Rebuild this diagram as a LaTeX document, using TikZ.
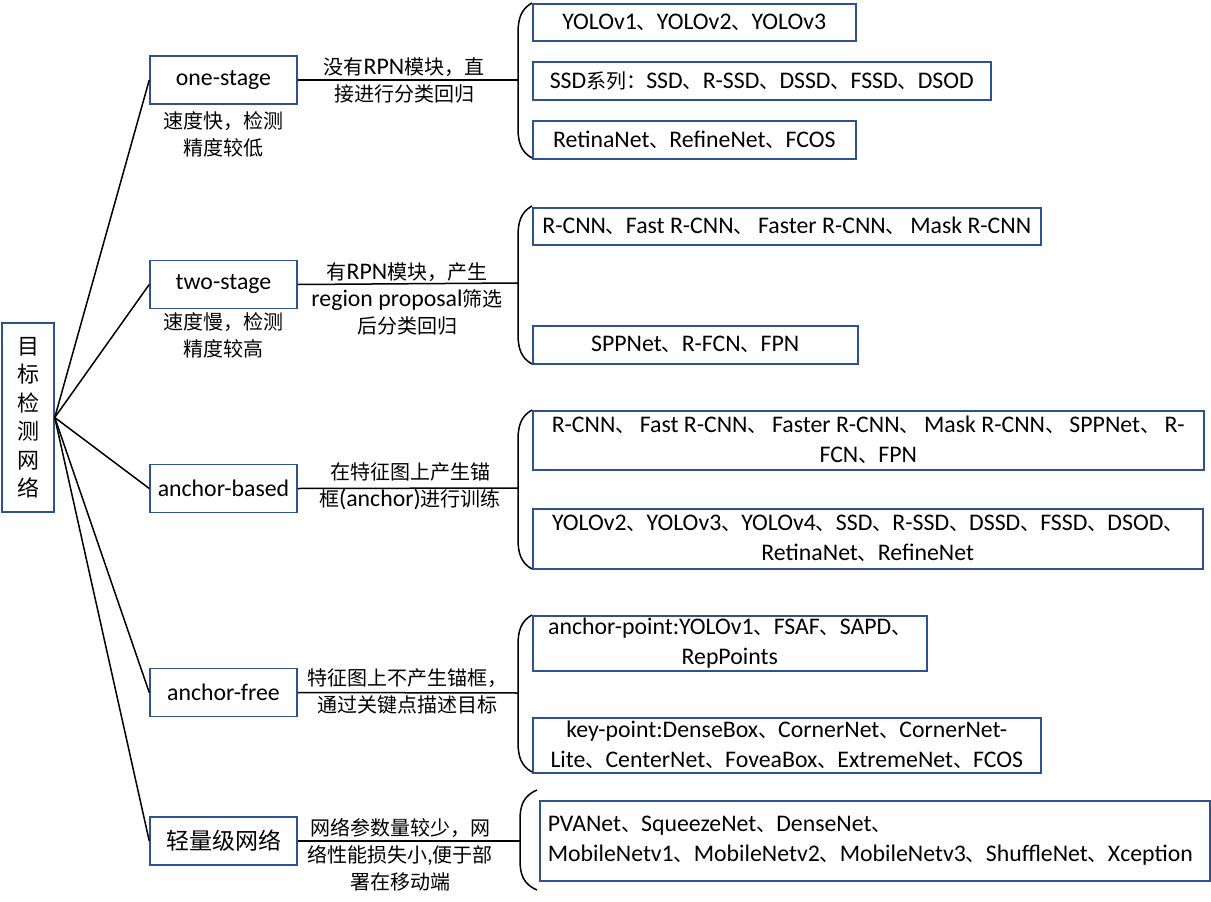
\documentclass[tikz,border=0pt]{standalone}
\usepackage{fontspec}
\usepackage{tikz}
\usetikzlibrary{calc}
\setmainfont{Carlito}[Scale=1.19]
\newfontfamily\cjk{Noto Sans CJK SC}
% switch to the CJK font for Chinese characters
\XeTeXinterchartokenstate=1
\newXeTeXintercharclass\CJKcls
\count255="3000 \loop\ifnum\count255<"3040 \XeTeXcharclass\count255=\CJKcls \advance\count255 by 1 \repeat
\count255="4E00 \loop\ifnum\count255<"A000 \XeTeXcharclass\count255=\CJKcls \advance\count255 by 1 \repeat
\count255="FF00 \loop\ifnum\count255<"FFF0 \XeTeXcharclass\count255=\CJKcls \advance\count255 by 1 \repeat
\XeTeXinterchartoks 0 \CJKcls = {\cjk}
\XeTeXinterchartoks 4095 \CJKcls = {\cjk}
\XeTeXinterchartoks \CJKcls 0 = {\rmfamily}
\XeTeXinterchartoks 4095 0 = {\rmfamily}
\definecolor{boxblue}{HTML}{2F528F}
\tikzset{box/.style = {rectangle, draw=boxblue, line width=1.5pt, inner sep=0pt,
                       align=center, font=\fontsize{20}{30}\selectfont}}

\begin{document}
\begin{tikzpicture}[x=1pt, y=-1pt, line width=1.5pt,
  main/.style = {box, minimum width=147pt, minimum height=48pt},
  leaf/.style = {box, anchor=north west},
  note/.style = {align=center, inner sep=0pt, font=\fontsize{20}{27}\selectfont}]
\useasboundingbox (0,0) rectangle (1211,902);
% root
\node[box, minimum width=52pt, minimum height=189pt, font=\fontsize{22}{28.5}\selectfont] (root) at (28,417.5) {目\\标\\检\\测\\网\\络};
% first level
\node[main] (one) at (223.5,80) {one-stage};
\node[main] (two) at (223.5,284.5) {two-stage};
\node[main] (ab) at (223.5,488.5) {anchor-based};
\node[main] (af) at (223.5,692.5) {anchor-free};
\node[main, font=\fontsize{23}{30}\selectfont] (lw) at (223.5,841) {轻量级网络};
\node[note] (onenote) at (223,134) {速度快，检测\\精度较低};
\node[note] (twonote) at (223,335) {速度慢，检测\\精度较高};
\foreach \n in {one,two,ab,af,lw} \draw (root.east) -- (\n.west);
% labels on the links
\node[note] (l1) at (404,80) {没有RPN模块，直\\接进行分类回归};
\node[note] (l2) at (407,299) {有RPN模块，产生\\region proposal筛选\\后分类回归};
\node[note] (l3) at (410,486.5) {在特征图上产生锚\\框(anchor)进行训练};
\node[note] (l4) at (407,691) {特征图上不产生锚框，\\通过关键点描述目标};
\node[note] (l5) at (400,855) {网络参数量较少，网\\络性能损失小,便于部\\署在移动端};
\coordinate (b1) at (518,80);
\coordinate (b2) at (518,283);
\coordinate (b3) at (518,488);
\coordinate (b4) at (518,693);
\coordinate (b5) at (520,841);
\draw (one.east) -- (b1);
\draw (two.east) -- (b2);
\draw (ab.east) -- (b3);
\draw (af.east) -- (b4);
\draw (lw.east) -- (b5);
% brackets
\foreach \xa/\xb/\ya/\yb in {518/532/3/158, 518/532/206/364, 518/532/410/569, 518/532/615/772, 520/537/790/890}
  \draw (\xb,\ya) .. controls (\xa+3,\ya+6) and (\xa,\ya+16) .. (\xa,\ya+30) -- (\xa,\yb-30)
        .. controls (\xa,\yb-16) and (\xa+3,\yb-6) .. (\xb,\yb);
% leaves
\node[leaf, minimum width=323pt, minimum height=37pt] (c11) at (532,3) {YOLOv1、YOLOv2、YOLOv3};
\node[leaf, minimum width=458pt, minimum height=38pt] (c12) at (532,61) {SSD系列：SSD、R-SSD、DSSD、FSSD、DSOD};
\node[leaf, minimum width=323pt, minimum height=38pt] (c13) at (532,120) {RetinaNet、RefineNet、FCOS};
\node[leaf, minimum width=508pt, minimum height=37pt] (c21) at (532,207) {R-CNN、Fast R-CNN、 Faster R-CNN、 Mask R-CNN};
\node[leaf, minimum width=325pt, minimum height=38pt] (c22) at (532,325) {SPPNet、R-FCN、FPN};
\node[leaf, minimum width=671pt, minimum height=59pt] (c31) at (532,410) {R-CNN、 Fast R-CNN、 Faster R-CNN、 Mask R-CNN、 SPPNet、 R-\\FCN、FPN};
\node[leaf, minimum width=670pt, minimum height=60pt] (c32) at (532,508) {YOLOv2、YOLOv3、YOLOv4、SSD、R-SSD、DSSD、FSSD、DSOD、\\RetinaNet、RefineNet};
\node[leaf, minimum width=394pt, minimum height=55pt] (c41) at (532,615) {anchor-point:YOLOv1、FSAF、SAPD、\\RepPoints};
\node[leaf, minimum width=508pt, minimum height=55pt] (c42) at (532,717) {key-point:DenseBox、CornerNet、CornerNet-\\Lite、CenterNet、FoveaBox、ExtremeNet、FCOS};
\node[leaf, minimum width=670pt, minimum height=80pt, align=left, text width=654pt] (c51) at (539,800) {PVANet、SqueezeNet、DenseNet、\\MobileNetv1、MobileNetv2、MobileNetv3、ShuffleNet、Xception};
\end{tikzpicture}
\end{document}
